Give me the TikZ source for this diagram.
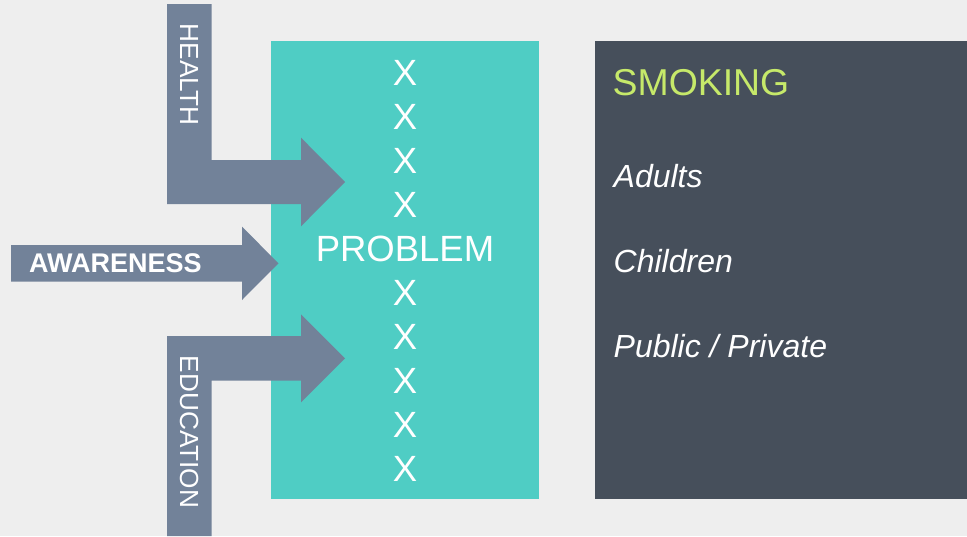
\documentclass[tikz,border=0pt]{standalone}
\usepackage{fontspec}
\setmainfont{Liberation Sans}
\definecolor{pagebg}{HTML}{EEEEEE}
\definecolor{aqua}{HTML}{4FCDC4}
\definecolor{slate}{HTML}{728299}
\definecolor{panel}{HTML}{464F5B}
\definecolor{lime}{HTML}{C6E96A}
\tikzset{
  arrowshape/.style={fill=slate},
  sidelabel/.style={text=white, inner sep=0pt, font=\fontsize{26.2}{26.2}\selectfont},
  xmark/.style={text=white, inner sep=0pt, anchor=base, font=\fontsize{36.5}{36.5}\selectfont},
  itemtext/.style={text=white, inner sep=0pt, anchor=base west, font=\fontsize{32}{32}\selectfont\itshape},
}
\begin{document}
\begin{tikzpicture}[x=1pt,y=-1pt]
\fill[pagebg] (0,0) rectangle (967,536);
\useasboundingbox (0,0) rectangle (967,536);

% central problem column and topic panel
\fill[aqua] (271,41) rectangle (539,499.3);
\fill[panel] (595,41) rectangle (967,499.3);

% bent arrow from above
\fill[arrowshape] (167,4) -- (211.7,4) -- (211.7,160) -- (301,160) -- (301,137.7)
  -- (345,182) -- (301,226.3) -- (301,204) -- (167,204) -- cycle;
% straight arrow from the left
\fill[arrowshape] (11,245) -- (242,245) -- (242,226.7) -- (278.5,263.3)
  -- (242,300) -- (242,281.7) -- (11,281.7) -- cycle;
% bent arrow from below
\fill[arrowshape] (167,536) -- (167,336) -- (301,336) -- (301,314.3)
  -- (345,358.3) -- (301,402.3) -- (301,380.7) -- (211.7,380.7) -- (211.7,536) -- cycle;

\node[sidelabel, rotate=-90] (health) at (189.3,74.7) {HEALTH};
\node[sidelabel, rotate=-90] (education) at (189.3,432) {EDUCATION};
\node[text=white, inner sep=0pt, anchor=base west, font=\fontsize{27}{27}\selectfont\bfseries]
  (awareness) at (29,272.7) {AWARENESS};

% column of marks around the problem
\foreach \i/\t in {0/X,1/X,2/X,3/X,4/PROBLEM,5/X,6/X,7/X,8/X,9/X}
  \node[xmark] (m\i) at (405,85+44*\i) {\t};

% topic panel text
\node[text=lime, inner sep=0pt, anchor=base west, font=\fontsize{37.4}{37.4}\selectfont]
  (smoking) at (612.5,95) {SMOKING};
\node[itemtext] (adults) at (613.5,187) {Adults};
\node[itemtext] (children) at (613.5,272.3) {Children};
\node[itemtext] (public) at (613.5,357.7) {Public / Private};
\end{tikzpicture}
\end{document}
